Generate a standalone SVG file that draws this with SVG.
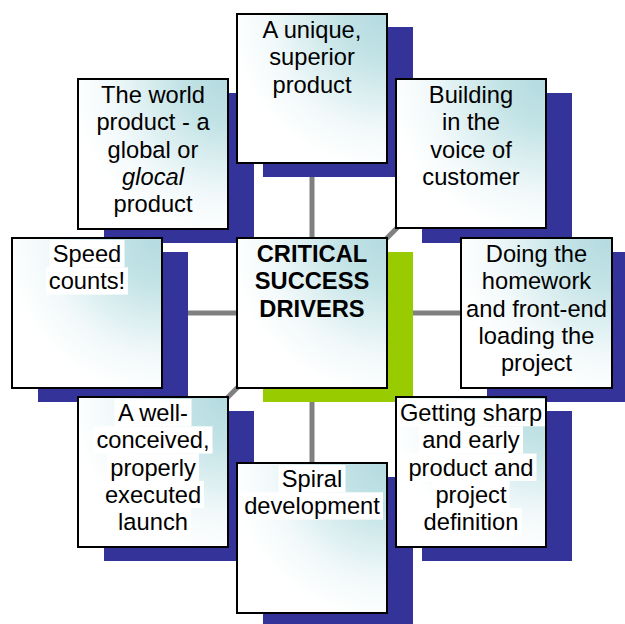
<svg xmlns="http://www.w3.org/2000/svg" width="625" height="624" viewBox="0 0 625 624">
<defs>
<radialGradient id="g" cx="1" cy="0" r="1.05" fx="1" fy="0">
<stop offset="0" stop-color="#b3dbe0"/>
<stop offset="0.3" stop-color="#c3e3e6"/>
<stop offset="0.75" stop-color="#f2f9fa"/>
<stop offset="1" stop-color="#ffffff"/>
</radialGradient>
</defs>
<style>
.sh{fill:#333399}
.shg{fill:#99cc00}
.bx{fill:url(#g);stroke:#000;stroke-width:2}
.hl{fill:#fff}
.c{stroke:#808080;stroke-width:5;fill:none}
text{font-family:"Liberation Sans",Arial,sans-serif;font-size:23.7px;fill:#000;text-anchor:middle}
.b{font-weight:bold}
</style>
<g id="connectors">
<line class="c" x1="312" y1="89" x2="312" y2="538"/>
<line class="c" x1="87" y1="313" x2="536" y2="313"/>
<line class="c" x1="153" y1="154" x2="471" y2="472"/>
<line class="c" x1="471" y1="154" x2="153" y2="472"/>
</g>
<g id="shadows">
<rect class="sh" x="263" y="27" width="150" height="150"/>
<rect class="sh" x="104" y="93" width="150" height="150"/>
<rect class="sh" x="422" y="93" width="150" height="150"/>
<rect class="sh" x="38" y="252" width="150" height="150"/>
<rect class="shg" x="263" y="252" width="150" height="150"/>
<rect class="sh" x="487" y="252" width="150" height="150"/>
<rect class="sh" x="104" y="411" width="150" height="150"/>
<rect class="sh" x="263" y="477" width="150" height="150"/>
<rect class="sh" x="422" y="411" width="150" height="150"/>
</g>
<g id="n-top">
<rect class="bx" x="237" y="14" width="150" height="149"/>
<text x="312" y="38"><tspan x="312">A unique,</tspan><tspan x="312" dy="27.3">superior</tspan><tspan x="312" dy="27.3">product</tspan></text>
</g>
<g id="n-world">
<rect class="bx" x="78" y="79" width="150" height="150"/>
<text x="153" y="103"><tspan x="153">The world</tspan><tspan x="153" dy="27.3">product - a</tspan><tspan x="153" dy="27.3">global or</tspan><tspan x="153" dy="27.3" font-style="italic">glocal</tspan><tspan x="153" dy="27.3">product</tspan></text>
</g>
<g id="n-building">
<rect class="bx" x="396" y="79" width="150" height="149"/>
<text x="471" y="103"><tspan x="471">Building</tspan><tspan x="471" dy="27.3">in the</tspan><tspan x="471" dy="27.3">voice of</tspan><tspan x="471" dy="27.3">customer</tspan></text>
</g>
<g id="n-speed">
<rect class="bx" x="12" y="238" width="150" height="150"/>
<rect class="hl" x="49.5" y="240" width="75" height="27.3"/>
<rect class="hl" x="46" y="267.3" width="82" height="27.3"/>
<text x="87" y="262"><tspan x="87">Speed</tspan><tspan x="87" dy="27.3">counts!</tspan></text>
</g>
<g id="n-center">
<rect class="bx" x="237" y="238" width="150" height="150"/>
<text class="b" x="312" y="262"><tspan x="312">CRITICAL</tspan><tspan x="312" dy="27.3">SUCCESS</tspan><tspan x="312" dy="27.3">DRIVERS</tspan></text>
</g>
<g id="n-doing">
<rect class="bx" x="461" y="238" width="151" height="150"/>
<text x="536.5" y="262"><tspan x="536.5">Doing the</tspan><tspan x="536.5" dy="27.3">homework</tspan><tspan x="536.5" dy="27.3">and front-end</tspan><tspan x="536.5" dy="27.3">loading the</tspan><tspan x="536.5" dy="27.3">project</tspan></text>
</g>
<g id="n-launch">
<rect class="bx" x="78" y="397" width="150" height="150"/>
<rect class="hl" x="114.5" y="399" width="77" height="27.3"/>
<rect class="hl" x="93.5" y="426.3" width="119" height="27.3"/>
<rect class="hl" x="107" y="453.6" width="92" height="27.3"/>
<rect class="hl" x="102" y="480.9" width="102" height="27.3"/>
<rect class="hl" x="115" y="508.2" width="76" height="27.3"/>
<text x="153" y="421"><tspan x="153">A well-</tspan><tspan x="153" dy="27.3">conceived,</tspan><tspan x="153" dy="27.3">properly</tspan><tspan x="153" dy="27.3">executed</tspan><tspan x="153" dy="27.3">launch</tspan></text>
</g>
<g id="n-spiral">
<rect class="bx" x="237" y="463" width="150" height="150"/>
<rect class="hl" x="278.5" y="465" width="67" height="27.3"/>
<rect class="hl" x="241" y="492.3" width="142" height="27.3"/>
<text x="312" y="487"><tspan x="312">Spiral</tspan><tspan x="312" dy="27.3">development</tspan></text>
</g>
<g id="n-sharp">
<rect class="bx" x="396" y="397" width="150" height="150"/>
<rect class="hl" x="397" y="399" width="148" height="27.3"/>
<rect class="hl" x="419" y="426.3" width="104" height="27.3"/>
<rect class="hl" x="405.5" y="453.6" width="131" height="27.3"/>
<rect class="hl" x="432.5" y="480.9" width="77" height="27.3"/>
<rect class="hl" x="420.5" y="508.2" width="101" height="27.3"/>
<text x="471" y="421"><tspan x="471">Getting sharp</tspan><tspan x="471" dy="27.3">and early</tspan><tspan x="471" dy="27.3">product and</tspan><tspan x="471" dy="27.3">project</tspan><tspan x="471" dy="27.3">definition</tspan></text>
</g>
</svg>
